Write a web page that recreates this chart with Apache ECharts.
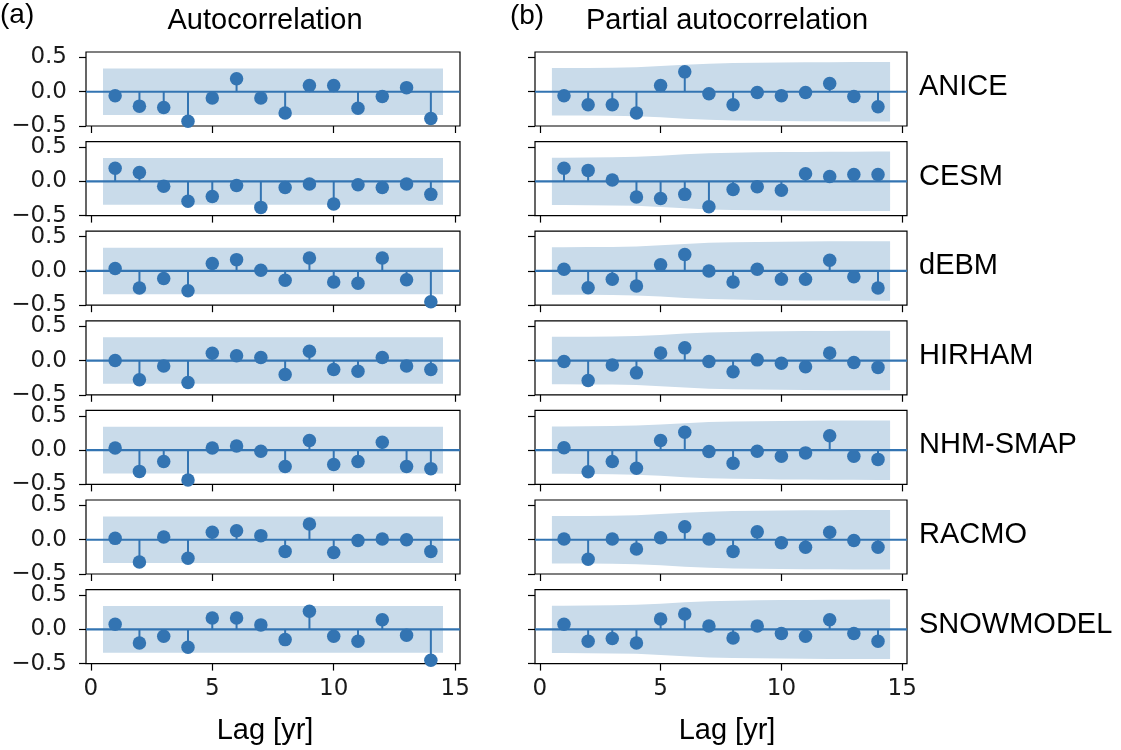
<!DOCTYPE html>
<html>
<head>
<meta charset="utf-8">
<script src="https://cdn.jsdelivr.net/npm/echarts@6/dist/echarts.min.js"></script>
<style>
  html, body { margin: 0; padding: 0; background: #fff; }
  #chart { width: 1121px; height: 750px; }
</style>
</head>
<body>
<div id="chart"></div>
<script>
// ---------------- data ----------------
const lags = [1, 2, 3, 4, 5, 6, 7, 8, 9, 10, 11, 12, 13, 14];
const models = ['ANICE', 'CESM', 'dEBM', 'HIRHAM', 'NHM-SMAP', 'RACMO', 'SNOWMODEL'];
const xTicks = [0, 5, 10, 15];
const yTicks = [-0.5, 0, 0.5];

// Autocorrelation (column a)
const acfANICE  = [-0.06, -0.21, -0.23, -0.43, -0.09, 0.19, -0.09, -0.31, 0.09, 0.09, -0.24, -0.07, 0.06, -0.39];
const acfCESM   = [0.19, 0.13, -0.07, -0.29, -0.22, -0.06, -0.38, -0.09, -0.04, -0.33, -0.05, -0.09, -0.04, -0.19];
const acfDEBM   = [0.035, -0.25, -0.11, -0.29, 0.11, 0.165, 0.01, -0.135, 0.19, -0.16, -0.18, 0.19, -0.13, -0.45];
const acfHIRHAM = [0.0, -0.28, -0.08, -0.32, 0.105, 0.07, 0.045, -0.205, 0.135, -0.13, -0.155, 0.045, -0.08, -0.13];
const acfNHM    = [0.03, -0.31, -0.165, -0.435, 0.03, 0.06, -0.015, -0.24, 0.14, -0.21, -0.165, 0.115, -0.24, -0.27];
const acfRACMO  = [0.02, -0.325, 0.04, -0.27, 0.11, 0.13, 0.06, -0.17, 0.23, -0.185, -0.01, 0.01, 0.0, -0.17];
const acfSNOW   = [0.075, -0.2, -0.1, -0.26, 0.165, 0.165, 0.065, -0.15, 0.265, -0.1, -0.175, 0.14, -0.085, -0.45];

// Partial autocorrelation (column b)
const pacfANICE  = [-0.06, -0.19, -0.19, -0.31, 0.09, 0.29, -0.03, -0.19, -0.01, -0.06, -0.01, 0.12, -0.07, -0.22];
const pacfCESM   = [0.19, 0.16, 0.02, -0.23, -0.25, -0.19, -0.37, -0.12, -0.08, -0.13, 0.11, 0.07, 0.1, 0.1];
const pacfDEBM   = [0.025, -0.245, -0.12, -0.22, 0.09, 0.24, 0.0, -0.16, 0.025, -0.12, -0.12, 0.155, -0.085, -0.25];
const pacfHIRHAM = [-0.015, -0.29, -0.065, -0.18, 0.11, 0.185, -0.015, -0.165, 0.01, -0.04, -0.09, 0.11, -0.03, -0.1];
const pacfNHM    = [0.035, -0.315, -0.165, -0.265, 0.14, 0.26, -0.02, -0.19, -0.015, -0.09, -0.04, 0.21, -0.09, -0.135];
const pacfRACMO  = [0.01, -0.285, 0.01, -0.135, 0.03, 0.19, 0.01, -0.17, 0.115, -0.045, -0.11, 0.11, -0.01, -0.11];
const pacfSNOW   = [0.075, -0.175, -0.135, -0.2, 0.15, 0.225, 0.05, -0.125, 0.05, -0.06, -0.1, 0.14, -0.06, -0.175];

// confidence bands (half-widths, centred on zero)
const acfBandX  = [0.5, 14.5];
const acfBandH  = [0.34, 0.34];
const pacfBandX = [0.5, 1, 2, 3, 4, 5, 6, 7, 8, 9, 10, 11, 12, 13, 14, 14.5];
const pacfBandH = [0.346, 0.346, 0.348, 0.351, 0.358, 0.374, 0.394, 0.41, 0.418, 0.423, 0.427, 0.43, 0.432, 0.433, 0.434, 0.434];

const acfList  = [acfANICE, acfCESM, acfDEBM, acfHIRHAM, acfNHM, acfRACMO, acfSNOW];
const pacfList = [pacfANICE, pacfCESM, pacfDEBM, pacfHIRHAM, pacfNHM, pacfRACMO, pacfSNOW];

// ---------------- styling / layout ----------------
const BLUE = '#3374b2';
const BAND = '#c9dbea';
const TICK_FONT = '"DejaVu Sans", sans-serif';
const TEXT_FONT = '"Liberation Sans", Arial, Helvetica, sans-serif';
const X_MIN = -0.2, X_MAX = 15.2, Y_MIN = -0.5, Y_MAX = 0.58;
const colLeft = [86, 535];
const colWidth = [374, 372];
const top0 = 52, pitch = 89.6, panelH = 74;

const grids = [], xAxes = [], yAxes = [], series = [];

function bandSeries(idx, bx, bh) {
  return {
    type: 'custom', xAxisIndex: idx, yAxisIndex: idx, z: 1, silent: true,
    data: bx.map((x, i) => [x, bh[i]]),
    renderItem: function (params, api) {
      if (params.dataIndex !== 0) return null;
      const pts = [];
      for (let i = 0; i < bx.length; i++) pts.push(api.coord([bx[i], bh[i]]));
      for (let i = bx.length - 1; i >= 0; i--) pts.push(api.coord([bx[i], -bh[i]]));
      return { type: 'polygon', shape: { points: pts }, style: { fill: BAND } };
    }
  };
}

for (let col = 0; col < 2; col++) {
  for (let row = 0; row < 7; row++) {
    const idx = grids.length;
    grids.push({
      left: colLeft[col], width: colWidth[col],
      top: top0 + pitch * row, height: panelH,
      show: true, borderColor: '#000', borderWidth: 1.2, backgroundColor: 'transparent'
    });
    xAxes.push({
      gridIndex: idx, type: 'value', min: X_MIN, max: X_MAX,
      axisLine: { show: false, onZero: false },
      splitLine: { show: false },
      axisTick: { show: true, length: 7, customValues: xTicks, lineStyle: { color: '#000', width: 1.2 } },
      axisLabel: {
        show: row === 6, customValues: xTicks, margin: 14,
        fontFamily: TICK_FONT, fontSize: 23, color: '#1a1a1a'
      }
    });
    yAxes.push({
      gridIndex: idx, type: 'value', min: Y_MIN, max: Y_MAX,
      axisLine: { show: false, onZero: false },
      splitLine: { show: false },
      axisTick: { show: true, length: 7, customValues: yTicks, lineStyle: { color: '#000', width: 1.2 } },
      axisLabel: {
        show: col === 0, customValues: yTicks, margin: 19,
        fontFamily: TICK_FONT, fontSize: 23, color: '#1a1a1a',
        formatter: v => v.toFixed(1).replace('-', '\u2212')
      }
    });
    const vals = col === 0 ? acfList[row] : pacfList[row];
    const pts = lags.map((l, i) => [l, vals[i]]);
    series.push(col === 0 ? bandSeries(idx, acfBandX, acfBandH) : bandSeries(idx, pacfBandX, pacfBandH));
    series.push({
      type: 'line', xAxisIndex: idx, yAxisIndex: idx, z: 2, silent: true,
      data: [[X_MIN, 0], [X_MAX, 0]], showSymbol: false, symbol: 'none',
      lineStyle: { color: BLUE, width: 2.2 }
    });
    series.push({
      type: 'custom', xAxisIndex: idx, yAxisIndex: idx, z: 3, silent: true,
      data: pts,
      renderItem: function (params, api) {
        const p0 = api.coord([api.value(0), 0]);
        const p1 = api.coord([api.value(0), api.value(1)]);
        return { type: 'line', shape: { x1: p0[0], y1: p0[1], x2: p1[0], y2: p1[1] },
                 style: { stroke: BLUE, lineWidth: 2 } };
      }
    });
    series.push({
      type: 'scatter', xAxisIndex: idx, yAxisIndex: idx, z: 4, silent: true,
      data: pts, symbol: 'circle', symbolSize: 13.5,
      itemStyle: { color: BLUE, opacity: 1 }
    });
  }
}

const graphics = [
  { type: 'text', left: 0, top: 1, style: { text: '(a)', font: '28px ' + TEXT_FONT, fill: '#000' } },
  { type: 'text', x: 265, y: 21, style: { text: 'Autocorrelation', font: '29px ' + TEXT_FONT, fill: '#000', align: 'center', verticalAlign: 'middle' } },
  { type: 'text', x: 527, y: 16, style: { text: '(b)', font: '28px ' + TEXT_FONT, fill: '#000', align: 'center', verticalAlign: 'middle' } },
  { type: 'text', x: 727, y: 21, style: { text: 'Partial autocorrelation', font: '29px ' + TEXT_FONT, fill: '#000', align: 'center', verticalAlign: 'middle' } },
  { type: 'text', x: 265, y: 731, style: { text: 'Lag [yr]', font: '29px ' + TEXT_FONT, fill: '#000', align: 'center', verticalAlign: 'middle' } },
  { type: 'text', x: 727, y: 731, style: { text: 'Lag [yr]', font: '29px ' + TEXT_FONT, fill: '#000', align: 'center', verticalAlign: 'middle' } }
];
models.forEach((m, row) => {
  graphics.push({ type: 'text', x: 919, y: top0 + pitch * row + panelH / 2 - 2,
    style: { text: m, font: '29px ' + TEXT_FONT, fill: '#000', align: 'left', verticalAlign: 'middle' } });
});

const chart = echarts.init(document.getElementById('chart'), null, { renderer: 'canvas' });
chart.setOption({
  animation: false,
  backgroundColor: '#fff',
  grid: grids,
  xAxis: xAxes,
  yAxis: yAxes,
  series: series,
  graphic: graphics
});
</script>
</body>
</html>
